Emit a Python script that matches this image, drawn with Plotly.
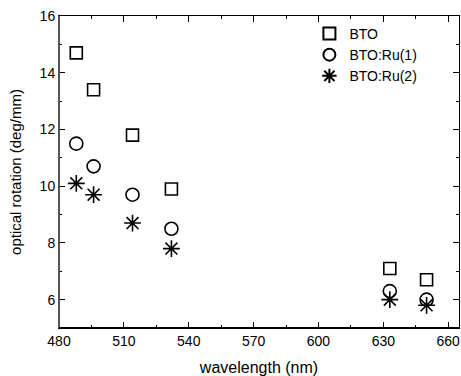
import plotly.graph_objects as go

wavelength = [488, 496, 514, 532, 633, 650]
bto = [14.7, 13.4, 11.8, 9.9, 7.1, 6.7]
bto_ru1 = [11.5, 10.7, 9.7, 8.5, 6.3, 6.0]
bto_ru2 = [10.1, 9.7, 8.7, 7.8, 6.0, 5.8]
names = ["BTO", "BTO:Ru(1)", "BTO:Ru(2)"]

FONT = "Liberation Sans, Arial, sans-serif"

fig = go.Figure()
fig.add_trace(go.Scatter(x=wavelength, y=bto, mode="markers", name=names[0],
                         marker=dict(symbol="square-open", size=12, color="black",
                                     line=dict(width=1.6, color="black"))))
fig.add_trace(go.Scatter(x=wavelength, y=bto_ru1, mode="markers", name=names[1],
                         marker=dict(symbol="circle-open", size=13, color="black",
                                     line=dict(width=1.6, color="black"))))
fig.add_trace(go.Scatter(x=wavelength, y=bto_ru2, mode="markers", name=names[2],
                         marker=dict(symbol="asterisk-open", size=14, color="black",
                                     line=dict(width=1.6, color="black"))))

axis_common = dict(showgrid=False, zeroline=False, showline=True, linecolor="black",
                   linewidth=1, mirror="allticks", ticks="inside", ticklen=6,
                   tickcolor="black", tickwidth=1,
                   tickfont=dict(family=FONT, size=14, color="black"),
                   minor=dict(ticks="inside", ticklen=3, tickcolor="black", tickwidth=1))

fig.update_xaxes(range=[480, 665], tickmode="array", tickvals=[480, 510, 540, 570, 600, 630, 660],
                 title=dict(text="wavelength (nm)", font=dict(family=FONT, size=16, color="black"),
                            standoff=15),
                 minor_dtick=15, **axis_common)
fig.update_yaxes(range=[5, 16], tickmode="array", tickvals=[6, 8, 10, 12, 14, 16],
                 title=dict(text="optical rotation (deg/mm)",
                            font=dict(family=FONT, size=15, color="black"), standoff=14),
                 minor_dtick=1, **axis_common)

# thicker left/bottom frame lines
fig.add_shape(type="line", xref="paper", yref="paper", x0=0, x1=0, y0=0, y1=1,
              line=dict(color="#555555", width=2))
fig.add_shape(type="line", xref="paper", yref="paper", x0=0, x1=1, y0=0, y1=0,
              line=dict(color="black", width=2))

fig.update_layout(
    width=461, height=376,
    margin=dict(l=59, r=2, t=16, b=48),
    paper_bgcolor="white", plot_bgcolor="white",
    showlegend=True,
    legend=dict(x=0.626, y=0.994, xanchor="left", yanchor="top",
                bgcolor="rgba(0,0,0,0)", font=dict(family=FONT, size=14, color="black"),
                tracegroupgap=0, itemsizing="constant"),
)

fig.write_html("out.html")
